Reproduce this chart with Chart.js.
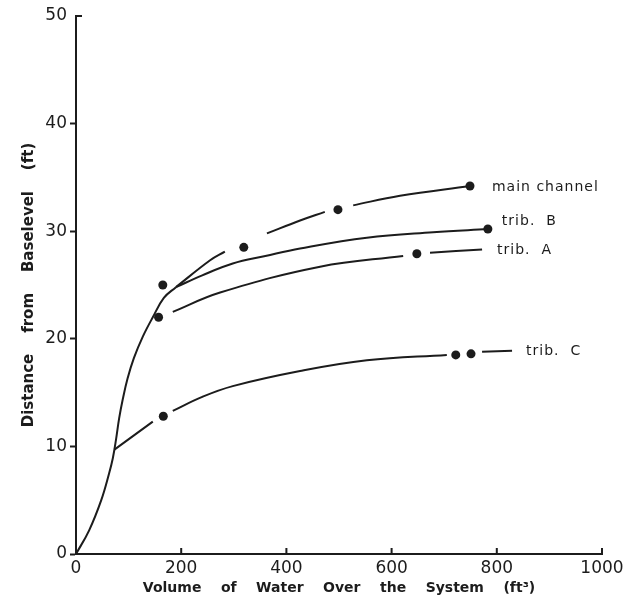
<!DOCTYPE html>
<html>
<head>
<meta charset="utf-8">
<script src="https://cdn.jsdelivr.net/npm/chart.js@4.4.1/dist/chart.umd.min.js"></script>
<style>
  html, body { margin: 0; padding: 0; background: #fff; }
  canvas { display: block; }
</style>
</head>
<body>
<canvas id="chart" width="634" height="599"></canvas>
<script>
// tick labels
const xTicks = [0, 200, 400, 600, 800, 1000];
const yTicks = [0, 10, 20, 30, 40, 50];

// common stem from the origin up to where the channels split
const trunk = [[0, 0], [25, 2.2], [48, 5.0], [63, 7.5], [70, 8.9], [76, 10.6], [82, 12.6], [89, 14.4], [98, 16.3], [110, 18.2], [127, 20.2], [146, 22.0], [167, 23.8], [190, 24.8]];

// drawn curves (null = pen lifted next to a dot)
const mainCurve = [[190, 24.8], [255, 27.3], [283, 28.1], null, [363, 29.8], [426, 31.0], [473, 31.8], null, [527, 32.4], [616, 33.3], [749, 34.2]];
const tribBCurve = [[190, 24.8], [240, 25.9], [298, 27.0], [360, 27.7], [426, 28.4], [553, 29.4], [679, 29.9], [783, 30.2]];
const tribACurve = [[184, 22.5], [274, 24.3], [464, 26.7], [622, 27.7], null, [673, 28.0], [772, 28.3]];
const tribCCurve = [[73, 9.7], [146, 12.3], null, [184, 13.3], [240, 14.6], [298, 15.6], [426, 17.0], [553, 18.0], [705, 18.5], null, [772, 18.8], [829, 18.9]];

// measured points
const mainDots = [[165, 25.0], [319, 28.5], [498, 32.0], [749, 34.2]];
const tribBDots = [[783, 30.2]];
const tribADots = [[157, 22.0], [648, 27.9]];
const tribCDots = [[166, 12.8], [722, 18.5], [751, 18.6]];

const seriesNames = ['main channel', 'trib.  B', 'trib.  A', 'trib.  C'];

const ink = '#1c1c1c';
const family = "'DejaVu Sans', sans-serif";

const toXY = arr => arr.map(p => p ? { x: p[0], y: p[1] } : { x: null, y: null });

function curve(arr) {
  return {
    data: toXY(arr),
    borderColor: ink,
    borderWidth: 2,
    pointRadius: 0,
    tension: 0.4,
    spanGaps: false,
    fill: false
  };
}

function dots(arr) {
  return {
    data: toXY(arr),
    showLine: false,
    pointRadius: 4.5,
    pointBackgroundColor: ink,
    pointBorderWidth: 0
  };
}

// labels at the right end of each curve, plus the inward ticks on the x axis
const labelPlugin = {
  id: 'seriesLabels',
  afterDraw(chart) {
    const { ctx, scales: { x, y } } = chart;
    const ends = [
      mainDots[mainDots.length - 1],
      tribBDots[tribBDots.length - 1],
      tribACurve[tribACurve.length - 1],
      tribCCurve[tribCCurve.length - 1]
    ];
    const offsets = [[22, 1], [14, -8], [15, 1], [14, 1]];
    ctx.save();
    ctx.fillStyle = ink;
    ctx.font = '14px ' + family;
    ctx.letterSpacing = '1px';
    ctx.textBaseline = 'middle';
    seriesNames.forEach((name, i) => {
      ctx.fillText(name, x.getPixelForValue(ends[i][0]) + offsets[i][0], y.getPixelForValue(ends[i][1]) + offsets[i][1]);
    });

    ctx.strokeStyle = ink;
    ctx.lineWidth = 2;
    ctx.beginPath();
    xTicks.slice(1).forEach(v => {
      const px = x.getPixelForValue(v);
      ctx.moveTo(px, y.bottom);
      ctx.lineTo(px, y.bottom - 6);
    });
    // short cap at the top of the y axis
    const top = y.getPixelForValue(yTicks[yTicks.length - 1]);
    ctx.moveTo(x.left, top);
    ctx.lineTo(x.left + 6, top);
    ctx.stroke();
    ctx.restore();
  }
};

new Chart(document.getElementById('chart'), {
  type: 'line',
  data: {
    datasets: [
      curve(trunk),
      curve(mainCurve),
      curve(tribBCurve),
      curve(tribACurve),
      curve(tribCCurve),
      dots(mainDots),
      dots(tribBDots),
      dots(tribADots),
      dots(tribCDots)
    ]
  },
  options: {
    responsive: false,
    animation: false,
    layout: { padding: { left: 0, top: 16, right: 32, bottom: 0 } },
    plugins: {
      legend: { display: false },
      tooltip: { enabled: false }
    },
    scales: {
      x: {
        type: 'linear',
        min: 0,
        max: 1000,
        afterBuildTicks: s => { s.ticks = xTicks.map(v => ({ value: v })); },
        afterFit: s => { s.height = 45; },
        ticks: {
          font: { family, size: 17 },
          color: ink,
          padding: 4,
          maxRotation: 0,
          autoSkip: false,
          callback: v => String(v)
        },
        grid: { drawOnChartArea: false, drawTicks: false },
        border: { color: ink, width: 2 },
        title: {
          display: true,
          text: 'Volume    of    Water    Over    the    System    (ft³)',
          font: { family, size: 14, weight: 'bold' },
          color: ink,
          padding: { top: 0, bottom: 2 }
        }
      },
      y: {
        type: 'linear',
        min: 0,
        max: 50,
        afterBuildTicks: s => { s.ticks = yTicks.map(v => ({ value: v })); },
        afterFit: s => { s.width = 76; },
        ticks: { font: { family, size: 17 }, color: ink, padding: 3, callback: v => String(v) },
        grid: {
          drawOnChartArea: false,
          tickLength: 6,
          tickWidth: 2,
          tickColor: c => (c.tick && c.tick.value === 50) ? 'rgba(0,0,0,0)' : ink
        },
        border: { color: ink, width: 2 },
        title: {
          display: true,
          text: 'Distance    from    Baselevel    (ft)',
          font: { family, size: 15, weight: 'bold' },
          color: ink,
          padding: { top: 20, bottom: 0 }
        }
      }
    }
  },
  plugins: [labelPlugin]
});
</script>
</body>
</html>
